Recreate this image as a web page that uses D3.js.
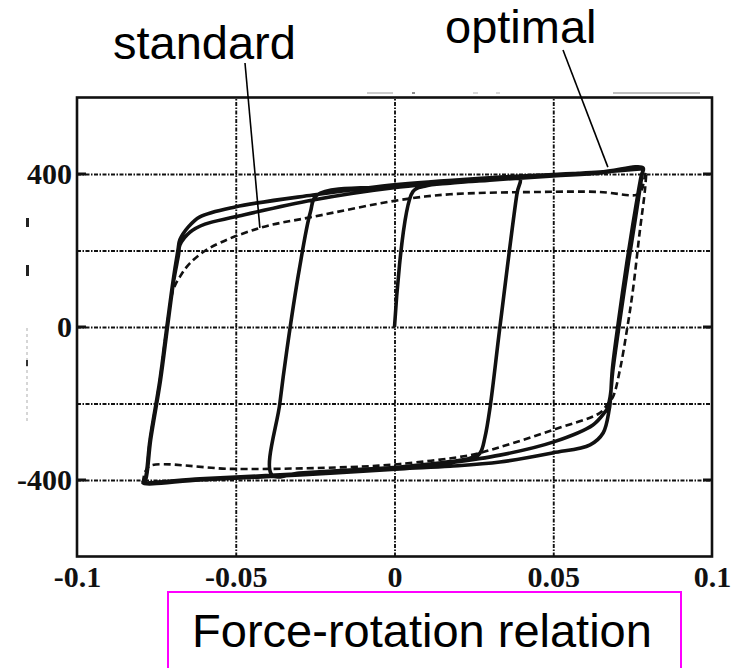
<!DOCTYPE html>
<meta charset="utf-8">
<style>
body { margin: 0; background: #fff; }
.grid line { stroke: #111; stroke-width: 1.9px; stroke-dasharray: 4,1.5,1.5,1.5; }
.grid path { display: none; }
.tick-label text { font-family: "Liberation Serif", "Times New Roman", serif; font-weight: bold; font-size: 30px; fill: #111; }
.note { font-family: "Liberation Sans", Arial, sans-serif; font-size: 47px; fill: #000; }
</style>
<svg width="753" height="668"></svg>
<script src="https://d3js.org/d3.v7.min.js"></script>
<script>

// tick values and labels
var xTicks = [-0.1, -0.05, 0, 0.05, 0.1];
var xTickLabels = ["-0.1", "-0.05", "0", "0.05", "0.1"];
var xGrid = [-0.05, 0, 0.05];
var yTicks = [-400, 0, 400];
var yTickLabels = ["-400", "0", "400"];
var yGrid = [-400, -200, 0, 200, 400];

// optimal (solid) : rotation / force
var optimalRot = [
  0, 0.0058, 0.0095, 0.0175, 0.0300, 0.0395,
  0.0386, 0.0332, 0.0301, 0.0285, 0.0269, 0.0238, 0.0175, 0.0017, -0.0140, -0.0300, -0.0386,
  -0.0361, -0.0339, -0.0300, -0.0265, -0.0244,
  0.0017, 0.0300, 0.0500, 0.0650, 0.0783,
  0.0780, 0.0760, 0.0738, 0.0710, 0.0688, 0.0679,
  0.0669, 0.0663, 0.0625, 0.0499, 0.0332, 0.0175, 0.0017, -0.0298, -0.0613, -0.0792,
  -0.0786, -0.0770, -0.0739, -0.0717, -0.0697, -0.0682,
  -0.0676, -0.0650, -0.0613, -0.0502, -0.0257, 0.0017, 0.0332, 0.0646, 0.0783,
  0.0777, 0.0755, 0.0733, 0.0706, 0.0686, 0.0680,
  0.0676, 0.0657, 0.0616, 0.0499, 0.0332, 0.0175, 0.0017, -0.0298, -0.0613, -0.0792,
  -0.0784, -0.0768, -0.0737, -0.0715, -0.0695, -0.0680,
  -0.0676, -0.0644, -0.0597, -0.0502, -0.0257, 0.0017, 0.0332, 0.0646, 0.0783
];
var optimalForce = [
  0, 354, 368, 376, 384, 390,
  350, 0, -210, -288, -330, -343, -352, -366, -374, -382, -387,
  -199, -60, 150, 300, 345,
  368, 384, 395, 403, 414,
  400, 290, 175, 18, -112, -183,
  -215, -222, -256, -301, -335, -355, -369, -384, -397, -405,
  -400, -295, -139, 0, 123, 201,
  228, 261, 288, 314, 345, 373, 392, 405, 416,
  395, 290, 175, 18, -112, -190,
  -217, -277, -308, -329, -353, -364, -371, -387, -400, -408,
  -400, -295, -139, 0, 123, 190,
  214, 248, 269, 288, 332, 366, 389, 405, 414
];

// standard (dashed) : rotation / force
var standardRot = [
  -0.0792, -0.0786, -0.0770, -0.0739, -0.0717, -0.0697, -0.0676, -0.0644, -0.0581, -0.0424,
  -0.0257, 0.0017, 0.0175, 0.0458, 0.0646, 0.0761, 0.0775, 0.0792,
  0.0789, 0.0773, 0.0751, 0.0732, 0.0710, 0.0688, 0.0669, 0.0646, 0.0499, 0.0332, 0.0238,
  0.0017, -0.0140, -0.0509, -0.0770, -0.0786, -0.0792
];
var standardForce = [
  -405, -400, -295, -139, 0, 97, 131, 167, 207, 259,
  288, 332, 347, 353, 353, 345, 352, 405,
  360, 253, 97, -8, -112, -183, -204, -225, -269, -314, -335,
  -358, -366, -371, -363, -380, -405
];

// callouts : text and the point the leader line reaches
var noteTexts = ["standard", "optimal"];
var noteRot = [-0.0424, 0.0672];
var noteForce = [259, 418];

var svg = d3.select("svg");

var x = d3.scaleLinear().domain([-0.1, 0.1]).range([77, 712]);
var y = d3.scaleLinear().domain([-600, 600]).range([556.5, 97.5]);

// grid
svg.append("g").attr("class", "grid")
  .attr("transform", "translate(0," + y(-600) + ")")
  .call(d3.axisBottom(x).tickValues(xGrid).tickSize(-(y(-600) - y(600))).tickFormat(""));
svg.append("g").attr("class", "grid")
  .attr("transform", "translate(" + x(-0.1) + ",0)")
  .call(d3.axisLeft(y).tickValues(yGrid).tickSize(-(x(0.1) - x(-0.1))).tickFormat(""));

// major tick stubs on both sides
var stubs = svg.append("g").attr("stroke", "#111").attr("stroke-width", 3);
yTicks.forEach(function(v) {
  stubs.append("line").attr("x1", x(-0.1)).attr("x2", x(-0.1) + 9).attr("y1", y(v)).attr("y2", y(v));
  stubs.append("line").attr("x1", x(0.1) - 9).attr("x2", x(0.1)).attr("y1", y(v)).attr("y2", y(v));
});

// frame
svg.append("rect")
  .attr("x", x(-0.1)).attr("y", y(600))
  .attr("width", x(0.1) - x(-0.1)).attr("height", y(-600) - y(600))
  .attr("fill", "none").attr("stroke", "#111").attr("stroke-width", 2.6);

// tick labels
var xAxis = svg.append("g").attr("class", "tick-label")
  .attr("transform", "translate(0," + y(-600) + ")")
  .call(d3.axisBottom(x).tickValues(xTicks).tickSize(0).tickPadding(9)
    .tickFormat(function(d, i) { return xTickLabels[i]; }));
xAxis.select(".domain").remove();

var yAxis = svg.append("g").attr("class", "tick-label")
  .attr("transform", "translate(" + x(-0.1) + ",0)")
  .call(d3.axisLeft(y).tickValues(yTicks).tickSize(0).tickPadding(5)
    .tickFormat(function(d, i) { return yTickLabels[i]; }));
yAxis.select(".domain").remove();

// faint leftovers of an erased axis title
var ghost = svg.append("g");
ghost.append("rect").attr("x", 26).attr("y", 218).attr("width", 3).attr("height", 9).attr("fill", "#222");
ghost.append("rect").attr("x", 26).attr("y", 265).attr("width", 3).attr("height", 11).attr("fill", "#222");
ghost.append("line").attr("x1", 27).attr("x2", 27).attr("y1", 328).attr("y2", 422)
  .attr("stroke", "#bbb").attr("stroke-width", 1.2).attr("stroke-dasharray", "3,3");
ghost.append("rect").attr("x", 26).attr("y", 360).attr("width", 2).attr("height", 6).attr("fill", "#333");
[[367, 393, "#bbb"], [412, 415, "#666"], [473, 478, "#ccc"], [496, 500, "#ccc"], [613, 700, "#aaa"]].forEach(function(s) {
  ghost.append("line").attr("x1", s[0]).attr("x2", s[1]).attr("y1", 93).attr("y2", 93)
    .attr("stroke", s[2]).attr("stroke-width", 1.5);
});

// curves
var line = d3.line()
  .curve(d3.curveCatmullRom.alpha(0.5))
  .x(function(d) { return x(d[0]); })
  .y(function(d) { return y(d[1]); });

var standardData = standardRot.map(function(r, i) { return [r, standardForce[i]]; });
var optimalData = optimalRot.map(function(r, i) { return [r, optimalForce[i]]; });

svg.append("path").datum(standardData)
  .attr("d", line).attr("fill", "none")
  .attr("stroke", "#111").attr("stroke-width", 2.6).attr("stroke-dasharray", "7,4")
  .attr("stroke-linejoin", "round");

svg.append("path").datum(optimalData)
  .attr("d", line).attr("fill", "none")
  .attr("stroke", "#111").attr("stroke-width", 3.6)
  .attr("stroke-linejoin", "round");

// callouts
var notePos = [[113, 59, 245, 63], [445, 43, 563, 50]];
noteTexts.forEach(function(t, i) {
  svg.append("text").attr("class", "note")
    .attr("x", notePos[i][0]).attr("y", notePos[i][1]).text(t);
  svg.append("line")
    .attr("x1", notePos[i][2]).attr("y1", notePos[i][3])
    .attr("x2", x(noteRot[i])).attr("y2", y(noteForce[i]))
    .attr("stroke", "#000").attr("stroke-width", 1.6);
});

// caption box
svg.append("rect")
  .attr("x", 168).attr("y", 592).attr("width", 513).attr("height", 90)
  .attr("fill", "none").attr("stroke", "#ff00ff").attr("stroke-width", 2);
svg.append("text").attr("class", "note")
  .attr("x", 422).attr("y", 647).attr("text-anchor", "middle")
  .text("Force-rotation relation");

</script>
